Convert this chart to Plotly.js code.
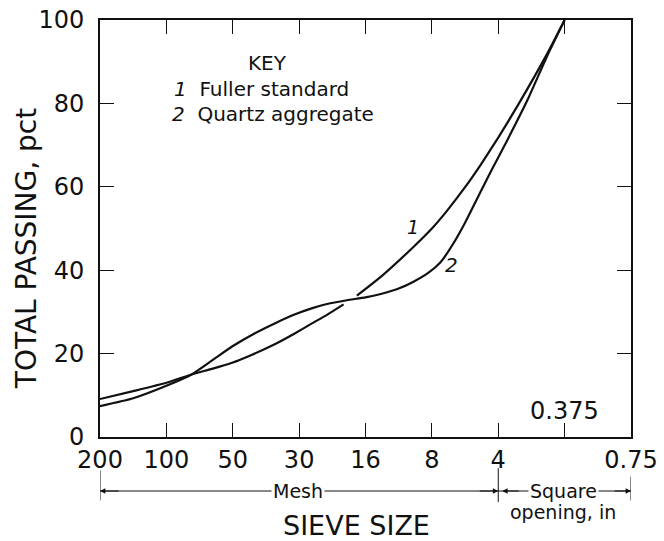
<!DOCTYPE html>
<html>
<head>
<meta charset="utf-8">
<script src="https://cdn.plot.ly/plotly-3.0.1.min.js"></script>
<style>html,body{margin:0;padding:0;background:#fff;}#chart{width:664px;height:541px;}</style>
</head>
<body>
<div id="chart"></div>
<script>
// Sieve positions (equal spacing on the chart) and their labels
const sieveIndex = [0, 1, 2, 3, 4, 5, 6, 7, 8];
const sieveLabels = ["200", "100", "50", "30", "16", "8", "4", "", "0.75"];

// Curve 1: Fuller standard (x = sieve index position, y = total passing, pct)
const fullerX = [0, 0.5, 1.0, 1.38, 1.7, 1.99, 2.3, 2.64, 2.92, 3.2, 3.42, 3.67, null, 3.87, 4.23, 4.73, 5.0, 5.23, 5.5, 5.74, 6.0, 6.29, 6.74, 7.0];
const fullerY = [9.1, 11.0, 13.0, 15.0, 16.4, 17.8, 19.8, 22.3, 24.7, 27.3, 29.3, 31.8, null, 33.9, 38.4, 45.7, 50.0, 54.3, 59.9, 65.4, 71.8, 79.4, 92.0, 100];

// Curve 2: Quartz aggregate
const quartzX = [0, 0.5, 1.0, 1.38, 1.7, 1.99, 2.3, 2.64, 2.92, 3.2, 3.42, 3.72, 4.0, 4.23, 4.5, 4.73, 4.95, 5.13, 5.3, 5.5, 5.74, 5.9, 6.14, 6.44, 6.74, 7.0];
const quartzY = [7.4, 9.3, 12.3, 15.0, 18.5, 21.7, 24.6, 27.3, 29.3, 30.9, 31.9, 32.8, 33.5, 34.3, 35.6, 37.3, 39.4, 41.9, 45.8, 51.4, 59.0, 64.0, 71.3, 80.8, 91.5, 100];

const yTicks = [0, 20, 40, 60, 80, 100];

const F = "DejaVu Sans, Liberation Sans, sans-serif";
const ink = "#111";

const traces = [
  {x: fullerX, y: fullerY, mode: "lines", name: "Fuller standard",
   line: {color: ink, width: 2.2, shape: "spline", smoothing: 0.5}, connectgaps: false, hoverinfo: "skip"},
  {x: quartzX, y: quartzY, mode: "lines", name: "Quartz aggregate",
   line: {color: ink, width: 2.2, shape: "spline", smoothing: 0.5}, hoverinfo: "skip"}
];

const yLine = -0.1295;
const T = (o) => Object.assign({showarrow: false, xanchor: "center", yanchor: "middle"}, o);
const arrowAt = (x, ax) => ({xref: "x", yref: "paper", x: x, y: yLine, ax: ax, ay: 0, text: "",
  showarrow: true, arrowhead: 2, arrowsize: 0.9, arrowwidth: 1.2, arrowcolor: ink});

const layout = {
  width: 664, height: 541,
  margin: {l: 100, r: 33, t: 20, b: 104},
  paper_bgcolor: "#fff", plot_bgcolor: "#fff",
  showlegend: false,
  xaxis: {
    range: [0, 8], tickvals: sieveIndex, ticktext: sieveLabels,
    ticks: "inside", ticklen: 14, tickwidth: 1.2, tickcolor: ink,
    showline: true, linecolor: ink, linewidth: 2, mirror: "ticks",
    showgrid: false, zeroline: false, fixedrange: true,
    tickfont: {family: F, size: 24, color: ink}, ticklabelstandoff: 0
  },
  yaxis: {
    range: [0, 100], tickvals: yTicks,
    ticks: "inside", ticklen: 14, tickwidth: 1.2, tickcolor: ink,
    showline: true, linecolor: ink, linewidth: 2, mirror: "ticks",
    showgrid: false, zeroline: false, fixedrange: true,
    tickfont: {family: F, size: 24, color: ink}, ticklabelstandoff: 9
  },
  shapes: [
    {type: "line", xref: "x", yref: "paper", x0: 0, x1: 8, y0: yLine, y1: yLine, line: {color: ink, width: 1}},
    {type: "line", xref: "x", yref: "paper", x0: 0, x1: 0, y0: -0.08, y1: -0.152, line: {color: ink, width: 1}},
    {type: "line", xref: "x", yref: "paper", x0: 6, x1: 6, y0: -0.075, y1: -0.156, line: {color: ink, width: 1}},
    {type: "line", xref: "x", yref: "paper", x0: 8, x1: 8, y0: -0.095, y1: -0.152, line: {color: ink, width: 1}}
  ],
  annotations: [
    T({xref: "paper", yref: "paper", x: -0.137, y: 0.451, text: "TOTAL PASSING, pct", textangle: -90,
       font: {family: F, size: 28, color: ink}}),
    T({xref: "x", yref: "paper", x: 3.86, y: -0.213, text: "SIEVE SIZE",
       font: {family: F, size: 27, color: ink}}),
    T({xref: "x", yref: "paper", x: 2.98, y: yLine, text: "Mesh", bgcolor: "#fff",
       font: {family: F, size: 19, color: ink}}),
    T({xref: "x", yref: "paper", x: 6.98, y: yLine, text: "Square", bgcolor: "#fff",
       font: {family: F, size: 19, color: ink}}),
    T({xref: "x", yref: "paper", x: 6.98, y: -0.181, text: "opening, in",
       font: {family: F, size: 19, color: ink}}),
    arrowAt(0, 20), arrowAt(6, -20), arrowAt(6.06, 18), arrowAt(8, -18),
    T({xref: "x", yref: "y", x: 2.52, y: 89.7, text: "KEY", font: {family: F, size: 20, color: ink}}),
    T({xref: "x", yref: "y", x: 1.08, y: 83.5, xanchor: "left", text: "<i>1</i>  Fuller standard", font: {family: F, size: 20, color: ink}}),
    T({xref: "x", yref: "y", x: 1.06, y: 77.5, xanchor: "left", text: "<i>2</i>  Quartz aggregate", font: {family: F, size: 20, color: ink}}),
    T({xref: "x", yref: "y", x: 4.71, y: 50.4, text: "<i>1</i>", font: {family: F, size: 19, color: ink}}),
    T({xref: "x", yref: "y", x: 5.29, y: 41.2, text: "<i>2</i>", font: {family: F, size: 20, color: ink}}),
    T({xref: "x", yref: "y", x: 7.0, y: 6.3, text: "0.375", font: {family: F, size: 24, color: ink}})
  ]
};

Plotly.newPlot("chart", traces, layout, {displayModeBar: false, staticPlot: true});
</script>
</body>
</html>
